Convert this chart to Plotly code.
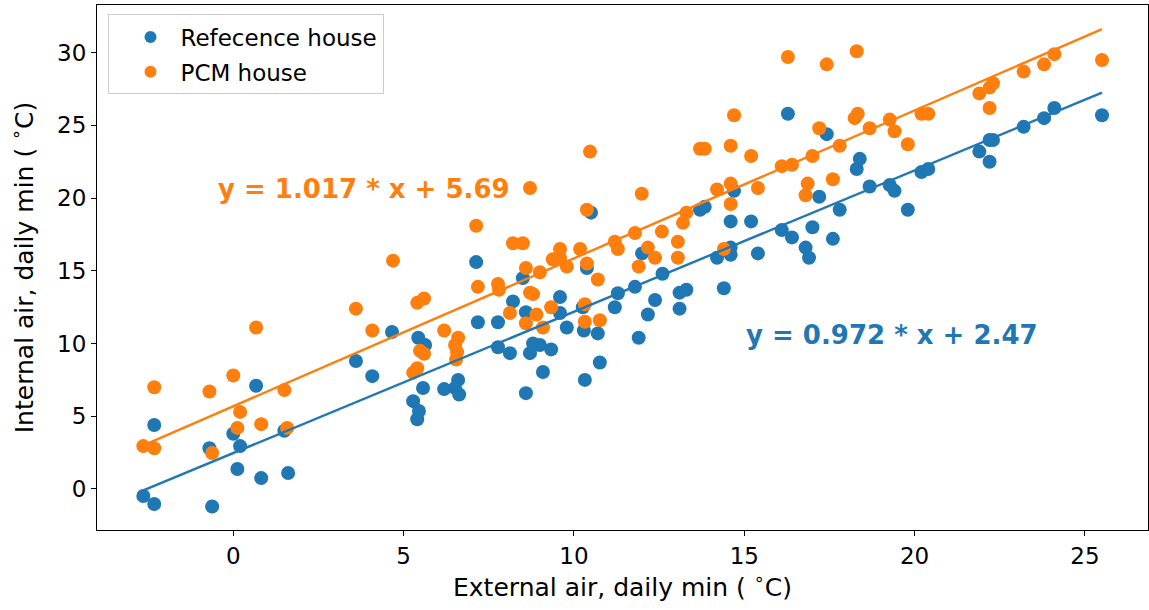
import plotly.graph_objects as go
import numpy as np

# Reference house: external daily min (x) vs internal daily min (y)
ref_x = [-2.64, -2.32, -2.32, -0.70, -0.62, 0.0, 0.12, 0.2, 0.67, 0.82, 1.5, 1.61, 3.6, 4.08, 4.66,
         5.28, 5.43, 5.63, 5.57, 5.45, 5.40, 6.19, 6.6, 6.51, 6.63, 7.13, 7.18, 7.77, 7.77, 8.12,
         8.21, 8.59, 8.59, 8.71, 8.80, 9.0, 9.09, 9.33, 8.5, 9.59, 9.59, 9.79, 10.29, 10.32, 10.26,
         10.38, 10.5, 10.7, 10.76, 11.2, 11.29, 11.79, 11.9, 12.0, 12.17, 12.38, 12.6, 13.1, 13.3,
         13.1, 13.7, 13.84, 14.2, 14.4, 14.6, 14.6, 14.6, 14.7, 15.2, 15.4, 16.1, 16.28, 16.4, 16.8,
         16.9, 17.0, 17.2, 17.42, 17.6, 17.8, 18.3, 18.39, 18.68, 19.27, 19.41, 19.8, 20.2, 20.4,
         21.9, 22.2, 22.3, 22.2, 23.2, 23.8, 24.1, 25.5]
ref_y = [-0.48, -1.03, 4.4, 2.8, -1.2, 3.8, 1.37, 2.95, 7.1, 0.75, 4.0, 1.1, 8.8, 7.76, 10.8,
         6.04, 10.4, 9.9, 6.94, 5.36, 4.8, 6.87, 7.5, 6.94, 6.5, 15.6, 11.47, 11.47, 9.75, 9.34,
         12.9, 12.16, 6.59, 9.34, 10.0, 9.9, 8.04, 9.6, 14.5, 13.2, 12.1, 11.1, 10.9, 7.5, 12.5,
         15.2, 19.0, 10.7, 8.7, 12.5, 13.46, 13.9, 10.4, 16.2, 12.0, 13.0, 14.8, 13.5, 13.7,
         12.4, 19.2, 19.4, 15.9, 13.8, 16.1, 16.6, 18.4, 20.5, 18.4, 16.2, 17.8, 25.8, 17.3, 16.6,
         15.9, 18.0, 20.1, 24.4, 17.2, 19.2, 22.0, 22.7, 20.8, 20.9, 20.5, 19.2, 21.8, 22.0,
         23.2, 24.0, 24.0, 22.5, 24.9, 25.5, 26.2, 25.7]

# PCM house
pcm_x = [-2.64, -2.32, -2.32, -0.70, -0.62, 0.0, 0.12, 0.2, 0.67, 0.82, 1.5, 1.58, 3.6, 4.08, 4.69,
         5.28, 5.4, 5.4, 5.6, 5.48, 5.6, 6.19, 6.6, 6.51, 6.57, 6.54, 7.13, 7.18, 7.77, 7.8, 8.12,
         8.21, 8.5, 8.59, 8.59, 8.71, 8.71, 8.8, 8.9, 9.0, 9.09, 9.33, 9.38, 9.59, 9.59, 9.79,
         10.18, 10.32, 10.32, 10.38, 10.38, 10.47, 10.7, 10.76, 11.2, 11.29, 11.79, 11.9, 11.99,
         12.17, 12.38, 12.58, 13.05, 13.05, 13.2, 13.3, 13.7, 13.84, 14.2, 14.4, 14.6, 14.6, 14.6,
         14.7, 15.2, 15.4, 16.1, 16.28, 16.4, 16.8, 16.86, 17.0, 17.2, 17.42, 17.6, 17.8, 18.24,
         18.3, 18.33, 18.68, 19.27, 19.41, 19.8, 20.2, 20.4, 21.9, 22.2, 22.3, 22.2, 23.2, 23.8,
         24.1, 25.5]
pcm_y = [2.95, 2.8, 7.0, 6.7, 2.47, 7.8, 4.2, 5.3, 11.1, 4.46, 6.8, 4.2, 12.4, 10.9, 15.7,
         8.0, 8.3, 12.8, 13.1, 9.5, 9.3, 10.9, 10.4, 9.9, 9.4, 8.9, 18.1, 13.9, 14.1, 13.7, 12.1,
         16.9, 16.9, 15.2, 11.4, 20.7, 13.5, 13.4, 12.0, 14.9, 11.1, 12.5, 15.8, 16.5, 15.9, 15.3,
         16.5, 12.7, 11.5, 15.5, 19.2, 23.2, 14.4, 11.6, 17.0, 16.5, 17.6, 15.3, 20.3,
         16.6, 15.9, 17.7, 17.0, 15.9, 18.3, 19.0, 23.4, 23.4, 20.6, 16.5, 21.0, 19.6, 23.6,
         25.7, 22.9, 20.7, 22.2, 29.7, 22.3, 20.2, 21.0, 22.9, 24.8, 29.2, 21.3, 23.6, 25.5,
         30.1, 25.8, 24.8, 25.4, 24.6, 23.7, 25.8, 25.8, 27.2, 27.6, 27.9, 26.2, 28.7, 29.2,
         29.9, 29.5]

# Fit coefficients shown in the chart
fit_slope = [0.972, 1.017]
fit_intercept = [2.47, 5.69]
fit_labels = ["y = 0.972 * x + 2.47", "y = 1.017 * x + 5.69"]
label_pos_x = [15.0, -0.5]
label_pos_y = [10.0, 20.0]

series_names = ["Refecence house", "PCM house"]
colors = ["#1f77b4", "#ff7f0e"]

fig = go.Figure()
xs = [ref_x, pcm_x]
ys = [ref_y, pcm_y]
for i in range(2):
    fig.add_trace(go.Scatter(x=xs[i], y=ys[i], mode="markers", name=series_names[i],
                             legendgroup=series_names[i],
                             marker=dict(color=colors[i], size=14, line=dict(width=0))))
for i in range(2):
    lx = np.array([min(xs[i]), max(xs[i])])
    ly = fit_slope[i] * lx + fit_intercept[i]
    fig.add_trace(go.Scatter(x=lx, y=ly, mode="lines", showlegend=False,
                             line=dict(color=colors[i], width=2.4)))
    fig.add_annotation(x=label_pos_x[i], y=label_pos_y[i], text="<b>" + fit_labels[i] + "</b>",
                       showarrow=False, xanchor="left", yanchor="bottom", yshift=-8,
                       font=dict(family="DejaVu Sans", size=26, color=colors[i]))

axis_common = dict(showline=True, linecolor="black", linewidth=1.2, mirror=True,
                   ticks="outside", ticklen=5, tickcolor="black", showgrid=False, zeroline=False,
                   tickfont=dict(family="DejaVu Sans", size=23, color="black"))

fig.update_layout(
    width=1149, height=610,
    margin=dict(l=97, r=1, t=5, b=80),
    plot_bgcolor="white", paper_bgcolor="white",
    font=dict(family="DejaVu Sans", color="black"),
    xaxis=dict(range=[-4.0, 26.85], tickvals=[0, 5, 10, 15, 20, 25],
               title=dict(text="External air, daily min ( <sup>∘</sup>C)", font=dict(size=25), standoff=10),
               **axis_common),
    yaxis=dict(range=[-2.82, 33.28], tickvals=[0, 5, 10, 15, 20, 25, 30],
               title=dict(text="Internal air, daily min ( <sup>∘</sup>C)", font=dict(size=25), standoff=16),
               **axis_common),
    legend=dict(x=0.01, y=0.982, xanchor="left", yanchor="top", bgcolor="white",
                bordercolor="#cccccc", borderwidth=1, font=dict(size=23, family="DejaVu Sans"),
                itemsizing="constant", itemwidth=50, indentation=12, tracegroupgap=2),
)

fig.write_html("out.html")
